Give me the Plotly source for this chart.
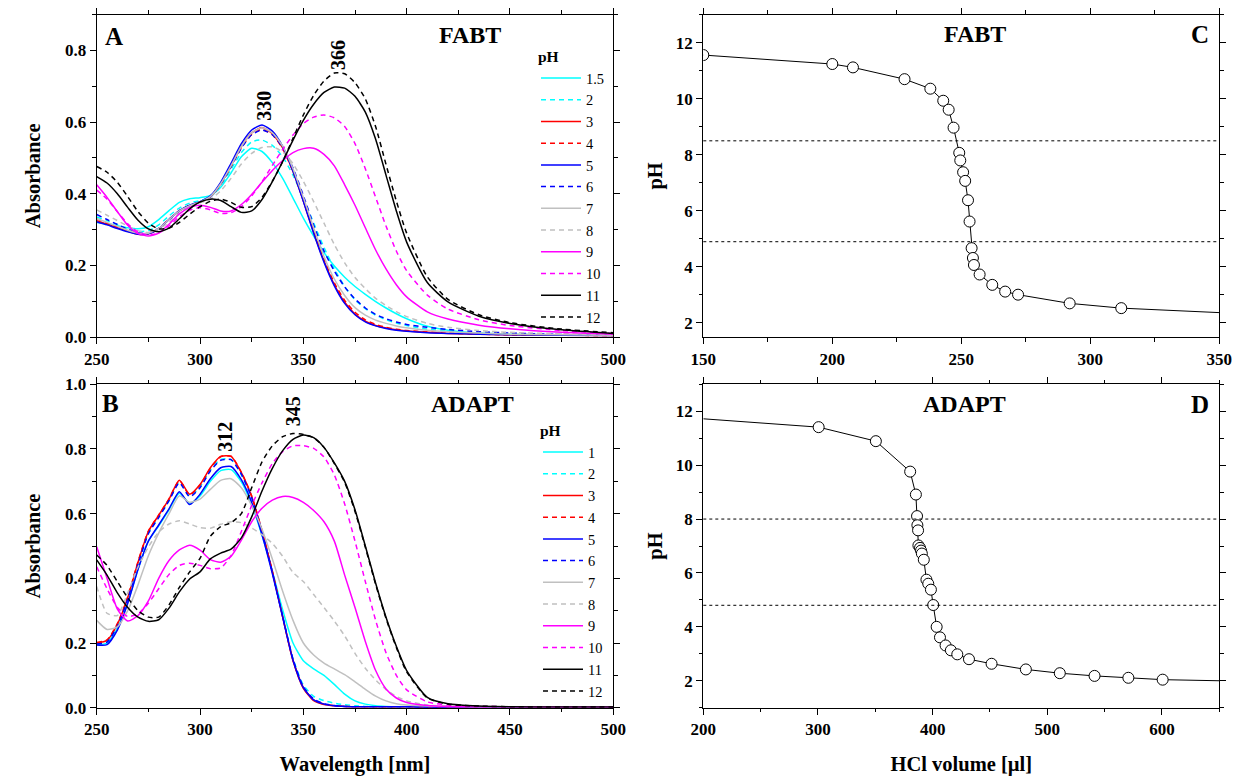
import plotly.graph_objects as go

W, H = 1234, 776
SERIF = "Liberation Serif"

# ---------------- data ----------------
wavelength = [250, 255, 260, 265, 270, 275, 280, 285, 290, 295,
              300, 305, 310, 315, 320, 325, 330, 335, 340, 345,
              350, 355, 360, 365, 370, 375, 380, 385, 390, 395,
              400, 410, 420, 435, 450, 475, 500]

fabt_ph_labels = ["1.5", "2", "3", "4", "5", "6", "7", "8", "9", "10", "11", "12"]
adapt_ph_labels = ["1", "2", "3", "4", "5", "6", "7", "8", "9", "10", "11", "12"]

fabt_ph1_5 = [0.320,0.316,0.311,0.305,0.302,0.308,0.328,0.353,0.376,0.386, 0.389,0.395,0.418,0.458,0.503,0.527,0.518,0.487,0.443,0.388, 0.332,0.282,0.236,0.198,0.167,0.141,0.119,0.099,0.081,0.065, 0.051,0.030,0.019,0.011,0.008,0.006,0.005]
fabt_ph2 = [0.335,0.325,0.314,0.303,0.295,0.297,0.313,0.338,0.360,0.374, 0.381,0.391,0.420,0.468,0.515,0.545,0.550,0.535,0.503,0.452, 0.388,0.318,0.250,0.190,0.141,0.104,0.079,0.061,0.048,0.039, 0.032,0.022,0.016,0.011,0.008,0.006,0.005]
fabt_ph3 = [0.325,0.315,0.305,0.295,0.287,0.288,0.302,0.328,0.352,0.367, 0.377,0.392,0.428,0.478,0.532,0.570,0.585,0.568,0.528,0.462, 0.380,0.292,0.212,0.146,0.097,0.064,0.044,0.032,0.025,0.020, 0.017,0.013,0.010,0.008,0.006,0.005,0.004]
fabt_ph4 = [0.330,0.318,0.307,0.296,0.288,0.289,0.303,0.329,0.353,0.368, 0.377,0.391,0.426,0.475,0.528,0.566,0.580,0.565,0.526,0.462, 0.382,0.296,0.217,0.151,0.102,0.069,0.048,0.035,0.027,0.022, 0.018,0.014,0.011,0.008,0.006,0.005,0.004]
fabt_ph5 = [0.322,0.313,0.303,0.294,0.287,0.288,0.302,0.328,0.353,0.368, 0.378,0.394,0.432,0.485,0.540,0.578,0.592,0.575,0.532,0.463, 0.379,0.290,0.209,0.143,0.094,0.062,0.042,0.031,0.024,0.019, 0.016,0.012,0.010,0.008,0.006,0.005,0.004]
fabt_ph6 = [0.342,0.328,0.314,0.301,0.291,0.290,0.303,0.328,0.352,0.367, 0.377,0.391,0.427,0.476,0.528,0.565,0.578,0.565,0.530,0.472, 0.395,0.312,0.240,0.184,0.140,0.106,0.081,0.063,0.051,0.042, 0.035,0.027,0.021,0.015,0.011,0.007,0.005]
fabt_ph7 = [0.330,0.320,0.309,0.298,0.290,0.290,0.303,0.328,0.352,0.367, 0.377,0.392,0.428,0.478,0.532,0.570,0.584,0.570,0.533,0.470, 0.390,0.305,0.225,0.162,0.116,0.082,0.061,0.047,0.038,0.031, 0.026,0.019,0.015,0.011,0.008,0.006,0.005]
fabt_ph8 = [0.355,0.340,0.325,0.310,0.297,0.292,0.300,0.320,0.345,0.364, 0.375,0.385,0.408,0.443,0.483,0.513,0.529,0.531,0.517,0.484, 0.435,0.378,0.318,0.258,0.207,0.166,0.135,0.108,0.088,0.071, 0.057,0.038,0.027,0.018,0.013,0.009,0.006]
fabt_ph9 = [0.425,0.390,0.350,0.312,0.289,0.282,0.290,0.315,0.344,0.362, 0.368,0.362,0.352,0.352,0.370,0.398,0.432,0.465,0.493,0.515, 0.526,0.527,0.510,0.478,0.425,0.368,0.305,0.243,0.190,0.146, 0.112,0.070,0.050,0.033,0.023,0.013,0.008]
fabt_ph10 = [0.410,0.385,0.350,0.316,0.293,0.285,0.290,0.310,0.336,0.354, 0.361,0.355,0.345,0.347,0.364,0.394,0.434,0.479,0.524,0.564, 0.596,0.614,0.620,0.612,0.588,0.540,0.470,0.390,0.310,0.240, 0.185,0.117,0.078,0.048,0.032,0.018,0.010]
fabt_ph11 = [0.448,0.430,0.400,0.362,0.326,0.302,0.294,0.304,0.330,0.358, 0.377,0.385,0.381,0.364,0.348,0.352,0.384,0.434,0.490,0.550, 0.605,0.650,0.683,0.698,0.695,0.672,0.628,0.552,0.452,0.352, 0.265,0.152,0.098,0.058,0.038,0.020,0.010]
fabt_ph12 = [0.476,0.460,0.432,0.392,0.350,0.318,0.302,0.304,0.320,0.343, 0.364,0.379,0.385,0.376,0.362,0.364,0.390,0.435,0.490,0.555, 0.620,0.675,0.715,0.737,0.735,0.710,0.665,0.587,0.482,0.380, 0.290,0.168,0.105,0.062,0.040,0.022,0.012]

adapt_ph1 = [0.195,0.200,0.245,0.325,0.428,0.515,0.562,0.612,0.663,0.632, 0.655,0.700,0.733,0.736,0.698,0.628,0.533,0.422,0.302,0.200, 0.145,0.120,0.100,0.072,0.042,0.021,0.011,0.006,0.004,0.003, 0.003,0.002,0.002,0.002,0.002,0.002,0.002]
adapt_ph2 = [0.200,0.207,0.255,0.338,0.445,0.540,0.590,0.640,0.697,0.655, 0.683,0.735,0.768,0.768,0.720,0.648,0.543,0.420,0.283,0.152, 0.070,0.035,0.022,0.014,0.009,0.006,0.004,0.003,0.003,0.003, 0.003,0.002,0.002,0.002,0.002,0.002,0.002]
adapt_ph3 = [0.200,0.208,0.258,0.340,0.450,0.545,0.595,0.645,0.703,0.660, 0.690,0.742,0.777,0.777,0.727,0.653,0.545,0.420,0.280,0.145, 0.060,0.022,0.010,0.006,0.004,0.003,0.003,0.003,0.003,0.003, 0.003,0.002,0.002,0.002,0.002,0.002,0.002]
adapt_ph4 = [0.202,0.210,0.260,0.342,0.452,0.546,0.596,0.646,0.702,0.658, 0.688,0.740,0.776,0.778,0.728,0.655,0.548,0.423,0.282,0.147, 0.062,0.024,0.011,0.006,0.004,0.003,0.003,0.003,0.003,0.003, 0.003,0.002,0.002,0.002,0.002,0.002,0.002]
adapt_ph5 = [0.194,0.195,0.240,0.322,0.428,0.515,0.565,0.615,0.668,0.628, 0.660,0.708,0.742,0.746,0.705,0.635,0.535,0.415,0.280,0.147, 0.062,0.024,0.011,0.006,0.004,0.003,0.003,0.003,0.003,0.003, 0.003,0.002,0.002,0.002,0.002,0.002,0.002]
adapt_ph6 = [0.197,0.203,0.252,0.335,0.443,0.538,0.588,0.640,0.695,0.652, 0.680,0.732,0.765,0.767,0.722,0.650,0.545,0.420,0.283,0.150, 0.065,0.027,0.013,0.007,0.004,0.003,0.003,0.003,0.003,0.003, 0.003,0.002,0.002,0.002,0.002,0.002,0.002]
adapt_ph7 = [0.270,0.242,0.250,0.300,0.380,0.470,0.540,0.600,0.655,0.635, 0.645,0.675,0.703,0.708,0.680,0.625,0.552,0.460,0.360,0.270, 0.200,0.163,0.138,0.120,0.102,0.080,0.057,0.036,0.021,0.012, 0.008,0.005,0.004,0.003,0.003,0.002,0.002]
adapt_ph8 = [0.375,0.292,0.285,0.355,0.435,0.497,0.543,0.568,0.578,0.568, 0.557,0.555,0.567,0.575,0.572,0.556,0.535,0.508,0.468,0.418, 0.390,0.350,0.310,0.268,0.222,0.168,0.122,0.086,0.056,0.035, 0.021,0.008,0.005,0.003,0.003,0.002,0.002]
adapt_ph9 = [0.498,0.400,0.305,0.268,0.285,0.330,0.400,0.455,0.488,0.502, 0.487,0.458,0.450,0.468,0.518,0.575,0.617,0.642,0.653,0.650, 0.635,0.610,0.575,0.515,0.410,0.310,0.205,0.115,0.058,0.030, 0.016,0.007,0.004,0.003,0.003,0.002,0.002]
adapt_ph10 = [0.436,0.368,0.310,0.282,0.290,0.323,0.368,0.412,0.440,0.447, 0.440,0.430,0.432,0.470,0.545,0.625,0.695,0.755,0.792,0.810, 0.810,0.802,0.775,0.720,0.630,0.515,0.390,0.270,0.170,0.100, 0.055,0.018,0.008,0.004,0.003,0.002,0.002]
adapt_ph11 = [0.457,0.410,0.355,0.310,0.280,0.267,0.272,0.308,0.358,0.398, 0.420,0.460,0.478,0.490,0.525,0.590,0.670,0.740,0.795,0.830, 0.843,0.835,0.805,0.757,0.700,0.612,0.500,0.385,0.280,0.190, 0.115,0.032,0.012,0.005,0.003,0.002,0.002]
adapt_ph12 = [0.472,0.440,0.390,0.340,0.300,0.280,0.280,0.318,0.372,0.420, 0.462,0.530,0.560,0.572,0.600,0.680,0.760,0.810,0.838,0.848, 0.845,0.835,0.805,0.755,0.697,0.607,0.496,0.381,0.276,0.186, 0.111,0.030,0.011,0.005,0.003,0.002,0.002]

fabt_peaks = [330, 366]
fabt_peak_label_abs = [0.646, 0.789]
adapt_peaks = [312, 345]
adapt_peak_label_abs = [0.837, 0.917]

# titration curves
fabt_vol = [150, 200, 208, 228, 238, 243, 245.1, 247, 249.2, 249.6, 250.7, 251.5, 252.6, 253.2,
            254.0, 254.5, 254.9, 257.1, 262, 267, 272, 292, 312]
fabt_pH = [11.56, 11.24, 11.12, 10.70, 10.36, 9.93, 9.61, 8.97, 8.07, 7.80, 7.38, 7.07, 6.38, 5.62,
           4.67, 4.32, 4.07, 3.73, 3.36, 3.12, 3.01, 2.70, 2.53]
fabt_line_end_vol = [350]
fabt_line_end_pH = [2.37]
fabt_ref_pH = [8.5, 4.9]

adapt_vol = [300.6, 350.5, 380.4, 385.4, 386.4, 386.7, 387.3, 387.6, 389.0, 389.9, 390.6, 392.3,
             394.6, 396.2, 398.5, 400.5, 403.5, 406.4, 411.3, 415.9, 421.5, 431.7, 451.4, 481.3,
             510.9, 541.2, 570.7, 600.6]
adapt_pH = [11.41, 10.89, 9.76, 8.91, 8.11, 7.77, 7.58, 7.02, 6.93, 6.83, 6.72, 6.49,
            5.75, 5.60, 5.38, 4.81, 4.00, 3.61, 3.31, 3.13, 2.98, 2.80, 2.63, 2.42,
            2.28, 2.18, 2.11, 2.04]
adapt_line_start_vol = [200]
adapt_line_start_pH = [11.72]
adapt_line_end_vol = [650]
adapt_line_end_pH = [2.0]
adapt_ref_pH = [8.0, 4.8]

# ---------------- styles ----------------
series_styles = [("#00FFFF", "solid"), ("#00FFFF", "dash"), ("#FF0000", "solid"), ("#FF0000", "dash"),
                 ("#0000FF", "solid"), ("#0000FF", "dash"), ("#C0C0C0", "solid"), ("#C0C0C0", "dash"),
                 ("#FF00FF", "solid"), ("#FF00FF", "dash"), ("#000000", "solid"), ("#000000", "dash")]
DASH = "5px,4px"

fabt_series = [fabt_ph1_5, fabt_ph2, fabt_ph3, fabt_ph4, fabt_ph5, fabt_ph6,
               fabt_ph7, fabt_ph8, fabt_ph9, fabt_ph10, fabt_ph11, fabt_ph12]
adapt_series = [adapt_ph1, adapt_ph2, adapt_ph3, adapt_ph4, adapt_ph5, adapt_ph6,
                adapt_ph7, adapt_ph8, adapt_ph9, adapt_ph10, adapt_ph11, adapt_ph12]

fig = go.Figure()

for lbl, ys, (c, d) in zip(fabt_ph_labels, fabt_series, series_styles):
    fig.add_trace(go.Scatter(x=wavelength, y=ys, mode="lines", name=lbl,
                             line=dict(color=c, width=1.5, dash=DASH if d == "dash" else "solid",
                                       shape="spline", smoothing=0.6),
                             xaxis="x", yaxis="y", legend="legend"))
for lbl, ys, (c, d) in zip(adapt_ph_labels, adapt_series, series_styles):
    fig.add_trace(go.Scatter(x=wavelength, y=ys, mode="lines", name=lbl,
                             line=dict(color=c, width=1.5, dash=DASH if d == "dash" else "solid",
                                       shape="spline", smoothing=0.6),
                             xaxis="x2", yaxis="y2", legend="legend2"))

# titration C
fig.add_trace(go.Scatter(x=fabt_vol + fabt_line_end_vol, y=fabt_pH + fabt_line_end_pH, mode="lines",
                         line=dict(color="black", width=1), showlegend=False, xaxis="x3", yaxis="y3"))
fig.add_trace(go.Scatter(x=fabt_vol, y=fabt_pH, mode="markers",
                         marker=dict(symbol="circle", size=11, color="white",
                                     line=dict(color="black", width=1)),
                         showlegend=False, xaxis="x3", yaxis="y3"))
# titration D
fig.add_trace(go.Scatter(x=adapt_line_start_vol + adapt_vol + adapt_line_end_vol,
                         y=adapt_line_start_pH + adapt_pH + adapt_line_end_pH, mode="lines",
                         line=dict(color="black", width=1), showlegend=False, xaxis="x4", yaxis="y4"))
fig.add_trace(go.Scatter(x=adapt_vol, y=adapt_pH, mode="markers",
                         marker=dict(symbol="circle", size=11, color="white",
                                     line=dict(color="black", width=1)),
                         showlegend=False, xaxis="x4", yaxis="y4"))

shapes = []
for v in fabt_ref_pH:
    shapes.append(dict(type="line", xref="x3 domain", yref="y3", x0=0, x1=1, y0=v, y1=v,
                       line=dict(color="black", width=1, dash="dot")))
for v in adapt_ref_pH:
    shapes.append(dict(type="line", xref="x4 domain", yref="y4", x0=0, x1=1, y0=v, y1=v,
                       line=dict(color="black", width=1, dash="dot")))

tickfont = dict(family=SERIF, size=17, color="black", weight="bold")
titlefont = dict(family=SERIF, size=20.5, color="black", weight="bold")


def axis(domain, rng, dtick, minor_dtick, anchor, title=None, showlabels=True, standoff=None, fmt=None):
    a = dict(domain=domain, range=rng, dtick=dtick, tick0=0, showline=True, linecolor="black",
             linewidth=1.3, mirror="allticks", ticks="outside", ticklen=6, tickwidth=1.2,
             tickcolor="black", showgrid=False, zeroline=False, tickfont=tickfont,
             showticklabels=showlabels, anchor=anchor, automargin=False,
             minor=dict(dtick=minor_dtick, ticks="outside", ticklen=3.5, tickwidth=1,
                        tickcolor="black", showgrid=False))
    if fmt:
        a["tickformat"] = fmt
    if title:
        a["title"] = dict(text=title, font=titlefont)
        if standoff is not None:
            a["title"]["standoff"] = standoff
    return a


def px(x):
    return x / W


def py(y):
    return 1 - y / H


LX = [px(96.7), px(613.3)]
RX = [px(703.3), px(1219.3)]
TY = [py(337.0), py(14.7)]
BY = [py(707.7), py(384.3)]

legend_common = dict(xanchor="left", yanchor="top", bgcolor="rgba(0,0,0,0)",
                     font=dict(family=SERIF, size=14.4, color="black"), itemwidth=40,
                     title=dict(text="<b>pH</b>", font=dict(family=SERIF, size=15.5, color="black")),
                     tracegroupgap=0)

layout = dict(
    width=W, height=H, margin=dict(l=0, r=0, t=0, b=0, autoexpand=False),
    paper_bgcolor="white", plot_bgcolor="white",
    font=dict(family=SERIF, color="black"),
    xaxis=axis(LX, [250, 500], 50, 25, "y"),
    yaxis=axis(TY, [0, 0.9], 0.2, 0.1, "x", title="Absorbance", standoff=18, fmt=".1f"),
    xaxis2=axis(LX, [250, 500], 50, 25, "y2", title="Wavelength [nm]", standoff=20),
    yaxis2=axis(BY, [0, 1.0], 0.2, 0.1, "x2", title="Absorbance", standoff=18, fmt=".1f"),
    xaxis3=axis(RX, [150, 350], 50, 25, "y3"),
    yaxis3=axis(TY, [1.5, 13], 2, 1, "x3", title="pH", standoff=7),
    xaxis4=axis(RX, [200, 650], 100, 50, "y4", title="HCl volume [µl]", standoff=20),
    yaxis4=axis(BY, [1, 13], 2, 1, "x4", title="pH", standoff=7),
    shapes=shapes,
    legend=dict(x=px(536), y=py(42), **legend_common),
    legend2=dict(x=px(538), y=py(416), **legend_common),
    showlegend=True,
)

ann = []


def label(text, x, y, size):
    ann.append(dict(text=text, x=px(x), y=py(y), xref="paper", yref="paper", showarrow=False,
                    xanchor="center", yanchor="middle",
                    font=dict(family=SERIF, size=size, color="black", weight="bold")))


label("A", 114, 36, 25)
label("B", 110, 403, 25)
label("C", 1200, 35, 25)
label("D", 1200, 404, 25)
label("FABT", 470, 35, 24)
label("ADAPT", 472, 404, 24)
label("FABT", 975, 34, 24)
label("ADAPT", 964, 404, 24)

for wl_pk, yv in zip(fabt_peaks, fabt_peak_label_abs):
    ann.append(dict(text=str(wl_pk), x=wl_pk + 1, y=yv, xref="x", yref="y", showarrow=False,
                    textangle=-90, xanchor="center", yanchor="middle",
                    font=dict(family=SERIF, size=20, color="black", weight="bold")))
for wl_pk, yv in zip(adapt_peaks, adapt_peak_label_abs):
    ann.append(dict(text=str(wl_pk), x=wl_pk, y=yv, xref="x2", yref="y2", showarrow=False,
                    textangle=-90, xanchor="center", yanchor="middle",
                    font=dict(family=SERIF, size=20, color="black", weight="bold")))

layout["annotations"] = ann
fig.update_layout(**layout)
fig.write_html("out.html")
